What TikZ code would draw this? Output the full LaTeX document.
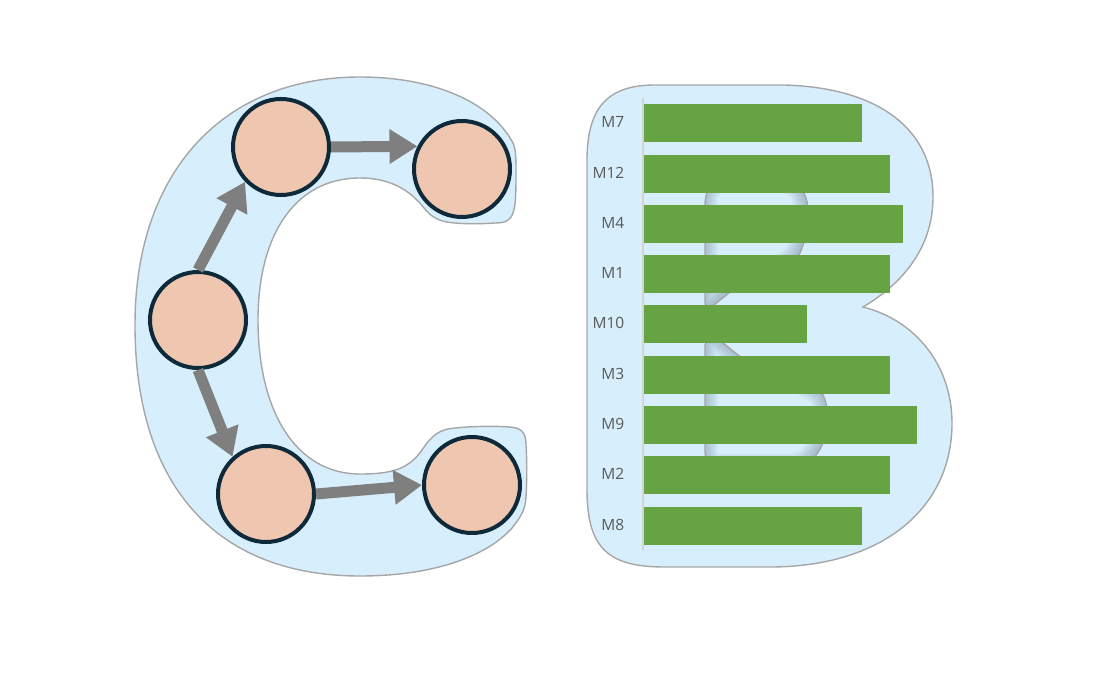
\documentclass[tikz,border=0pt]{standalone}
\usepackage{fontspec}
\setmainfont{Open Sans}
\usetikzlibrary{arrows.meta}
\definecolor{letterfill}{HTML}{D7EFFC}
\definecolor{letterline}{HTML}{A6A6A6}
\definecolor{stagefill}{HTML}{EFC6B0}
\definecolor{stageline}{HTML}{0E2A3A}
\definecolor{flowgrey}{HTML}{7F7F7F}
\definecolor{bargreen}{HTML}{66A343}
\definecolor{axisgrey}{HTML}{D4D4D4}
\definecolor{labelgrey}{HTML}{595959}
\definecolor{holeshade}{HTML}{7F93A6}
\newcommand{\upperhole}{(705,205) .. controls (705,188) and (715,178) .. (730,178)
      -- (775,178)
      .. controls (798,180) and (808,192) .. (808,212)
      .. controls (808,228) and (804,245) .. (799,255)
      .. controls (785,275) and (755,275) .. (730,292)
      -- (714,305)
      .. controls (708,310) and (705,308) .. (705,300) -- cycle}
\newcommand{\lowerhole}{(705,345) .. controls (705,340) and (714,336) .. (723,343)
      -- (738,355)
      .. controls (760,372) and (800,375) .. (823,395)
      .. controls (830,410) and (829,430) .. (823,443)
      .. controls (820,450) and (816,456) .. (810,462)
      .. controls (800,468) and (790,468) .. (780,468)
      -- (720,468)
      .. controls (710,468) and (705,462) .. (705,450) -- cycle}
\tikzset{
  letter/.style={draw=letterline,line width=1.4pt,fill=letterfill},
  holeglow/.style={draw=holeshade,opacity=0.07},
  stage/.style={circle,draw=stageline,fill=stagefill,line width=4pt,minimum size=96pt,inner sep=0pt},
  flow/.style={color=flowgrey,line width=11pt,-{Triangle[length=28pt,width=33pt]}},
  mbar/.style={anchor=north west,fill=bargreen,minimum height=37.5pt,inner sep=0pt},
  mlabel/.style={anchor=east,text=labelgrey,font=\fontsize{15.5}{18}\selectfont,inner sep=0pt}
}
\begin{document}
\begin{tikzpicture}[x=1pt,y=-1pt]
  \useasboundingbox (0,0) rectangle (1102,684);
  % letter C
  \draw[letter] (360,77) .. controls (430,77) and (490,100) .. (513,143)
    .. controls (516,150) and (516,160) .. (516,172)
    .. controls (516,190) and (516,205) .. (513,213)
    .. controls (510,221) and (505,223) .. (495,223)
    .. controls (480,224) and (465,224) .. (455,223)
    .. controls (440,222) and (432,218) .. (424,208)
    .. controls (410,190) and (390,178) .. (360,178)
    .. controls (295,178) and (258,235) .. (258,320)
    .. controls (258,410) and (295,474) .. (360,474)
    .. controls (390,474) and (408,470) .. (422,450)
    .. controls (432,435) and (440,429) .. (455,428)
    .. controls (475,426) and (495,426) .. (510,427)
    .. controls (522,428) and (526,433) .. (526,445)
    .. controls (527,460) and (527,480) .. (526,497)
    .. controls (525,510) and (522,515) .. (512,528)
    .. controls (485,558) and (430,576) .. (360,576)
    .. controls (220,576) and (135,490) .. (135,325)
    .. controls (135,170) and (225,77) .. (360,77) -- cycle;
  % letter B
  \draw[letter] (655,85) -- (785,85)
    .. controls (880,88) and (933,130) .. (933,197)
    .. controls (933,250) and (900,285) .. (863,307)
    .. controls (915,320) and (952,365) .. (952,423)
    .. controls (952,510) and (880,567) .. (770,567)
    -- (665,567)
    .. controls (610,567) and (587,550) .. (587,490)
    -- (587,160)
    .. controls (587,105) and (610,85) .. (655,85) -- cycle;
  % holes of the B
  \foreach \hole in {\upperhole,\lowerhole} {
    \begin{scope}
      \clip \hole;
      \foreach \w in {3,6,...,27}
        \draw[holeglow,line width=\w pt,xshift=-1pt,yshift=1pt] \hole;
    \end{scope}
    \draw[letterline,line width=1.4pt] \hole;
  }
  % chart
  \draw[axisgrey,line width=1.7pt] (643,98) -- (643,550);
  \node[mbar,minimum width=218pt] (m7) at (644,104) {};
  \node[mbar,minimum width=246pt] (m12) at (644,155) {};
  \node[mbar,minimum width=259pt] (m4) at (644,205) {};
  \node[mbar,minimum width=246pt] (m1) at (644,255) {};
  \node[mbar,minimum width=163pt] (m10) at (644,305) {};
  \node[mbar,minimum width=246pt] (m3) at (644,356) {};
  \node[mbar,minimum width=273pt] (m9) at (644,406) {};
  \node[mbar,minimum width=246pt] (m2) at (644,456) {};
  \node[mbar,minimum width=218pt] (m8) at (644,507) {};
  \foreach \mbarname/\mtext in {m7/M7,m12/M12,m4/M4,m1/M1,m10/M10,m3/M3,m9/M9,m2/M2,m8/M8}
    \node[mlabel] (l\mbarname) at ([xshift=-19.5pt,yshift=1pt]\mbarname.west) {\mtext};
  % stages of the C
  \draw
    (198,320) node[stage] (1){}
    (281,147) node[stage] (2){}
    (462,169) node[stage] (3){}
    (266,494) node[stage] (4){}
    (472,485) node[stage] (5){};
  \begin{scope}[flow]
    \draw (1.north) to (2.224);
    \draw (2.east) to (3.153);
    \draw (1.south) to (4.132);
    \draw (4.east) to (5.west);
  \end{scope}
\end{tikzpicture}
\end{document}
